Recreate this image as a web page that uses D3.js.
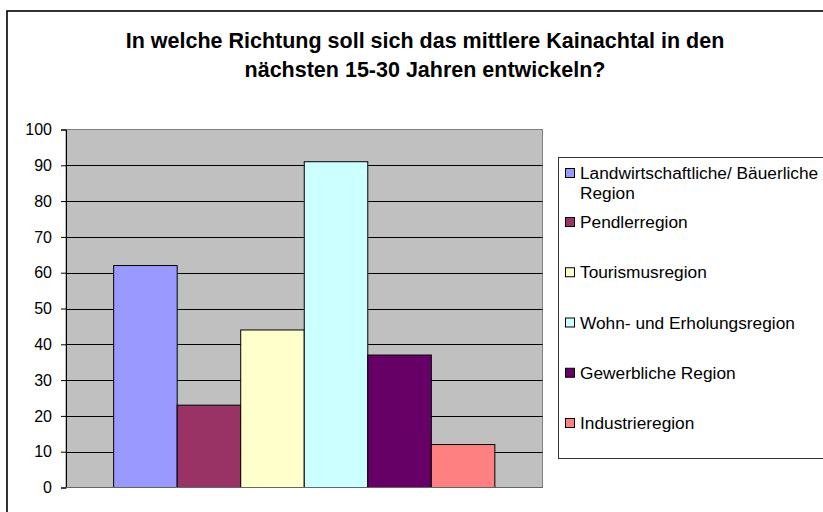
<!DOCTYPE html>
<html>
<head>
<meta charset="utf-8">
<script src="https://cdn.jsdelivr.net/npm/d3@7"></script>
<style>
  body { margin: 0; background: #fff; }
  svg text { font-family: "Liberation Sans", Arial, sans-serif; }
</style>
</head>
<body>
<div id="wrapper"></div>
<script>
// data
const categories = ["Landwirtschaftliche/ Bäuerliche Region", "Pendlerregion", "Tourismusregion",
    "Wohn- und Erholungsregion", "Gewerbliche Region", "Industrieregion"];
const values = [62, 23, 44, 91, 37, 12];
const colors = ["#9999FF", "#993366", "#FFFFCC", "#CCFFFF", "#660066", "#FF8080"];
const yTicks = [0, 10, 20, 30, 40, 50, 60, 70, 80, 90, 100];
const titleLines = ["In welche Richtung soll sich das mittlere Kainachtal in den",
    "nächsten 15-30 Jahren entwickeln?"];

function buildChart() {
    const dimension = { width: 823, height: 512 };
    const plot = { left: 66, right: 542.5, top: 129.5, bottom: 487.5 };

    const svg = d3.select("#wrapper").append("svg")
        .attr("width", dimension.width)
        .attr("height", dimension.height);

    // outer chart frame (cut off at the right and bottom)
    svg.append("rect")
        .attr("x", 7).attr("y", 11)
        .attr("width", 840).attr("height", 520)
        .attr("fill", "#fff")
        .attr("stroke", "#000")
        .attr("stroke-width", 1.6);

    // title
    svg.append("g").selectAll("text")
        .data(titleLines)
        .join("text")
        .attr("x", 425)
        .attr("y", (d, i) => 48 + i * 29)
        .attr("text-anchor", "middle")
        .style("font-size", "21.5px")
        .style("font-weight", "bold")
        .text(d => d);

    const yScale = d3.scaleLinear()
        .domain([0, 100])
        .range([plot.bottom, plot.top]);

    const xScale = d3.scaleBand()
        .domain(categories)
        .range([plot.left, plot.right])
        .paddingInner(0)
        .paddingOuter(0.75);

    // plot area
    svg.append("rect")
        .attr("x", plot.left).attr("y", plot.top)
        .attr("width", plot.right - plot.left)
        .attr("height", plot.bottom - plot.top)
        .attr("fill", "#C0C0C0")
        .attr("stroke", "#808080")
        .attr("stroke-width", 1);

    // gridlines
    svg.append("g").selectAll("line")
        .data(yTicks.filter(d => d > 0 && d < 100))
        .join("line")
        .attr("x1", plot.left).attr("x2", plot.right)
        .attr("y1", d => Math.round(yScale(d)) + 0.5)
        .attr("y2", d => Math.round(yScale(d)) + 0.5)
        .attr("stroke", "#000")
        .attr("stroke-width", 1);

    // y axis
    const yAxis = d3.axisLeft(yScale)
        .tickValues(yTicks)
        .tickSize(5)
        .tickPadding(9);
    const yG = svg.append("g")
        .attr("transform", `translate(${plot.left},0)`)
        .call(yAxis);
    yG.select(".domain").attr("stroke", "#000");
    yG.selectAll(".tick line").attr("stroke", "#000");
    yG.selectAll(".tick text")
        .style("font-size", "16px")
        .attr("fill", "#000");

    // bars
    svg.append("g").selectAll("rect")
        .data(values)
        .join("rect")
        .attr("x", (d, i) => xScale(categories[i]))
        .attr("y", d => yScale(d))
        .attr("width", xScale.bandwidth())
        .attr("height", d => plot.bottom - yScale(d))
        .attr("fill", (d, i) => colors[i])
        .attr("stroke", "#000")
        .attr("stroke-width", 1);

    // x axis line
    svg.append("line")
        .attr("x1", plot.left).attr("x2", plot.right)
        .attr("y1", plot.bottom).attr("y2", plot.bottom)
        .attr("stroke", "#666");

    // legend
    const legend = svg.append("g");
    legend.append("rect")
        .attr("x", 558.5).attr("y", 157.5)
        .attr("width", 300).attr("height", 301)
        .attr("fill", "#fff")
        .attr("stroke", "#333")
        .attr("stroke-width", 1);

    const legendY = d3.scaleLinear().domain([1, 5]).range([222, 423]);
    const itemY = i => i === 0 ? 173 : legendY(i);

    const items = legend.selectAll("g.item")
        .data(categories)
        .join("g")
        .attr("class", "item")
        .attr("transform", (d, i) => `translate(0,${itemY(i)})`);

    items.append("rect")
        .attr("x", 565.5).attr("y", -4.5)
        .attr("width", 9).attr("height", 9)
        .attr("fill", (d, i) => colors[i])
        .attr("stroke", "#000");

    items.append("text")
        .attr("x", 580)
        .style("font-size", "17.3px")
        .selectAll("tspan")
        .data(d => d === categories[0] ? ["Landwirtschaftliche/ Bäuerliche", "Region"] : [d])
        .join("tspan")
        .attr("x", 580)
        .attr("dy", (d, i) => i === 0 ? "0.35em" : "20px")
        .text(d => d);
}

buildChart();
</script>
</body>
</html>
